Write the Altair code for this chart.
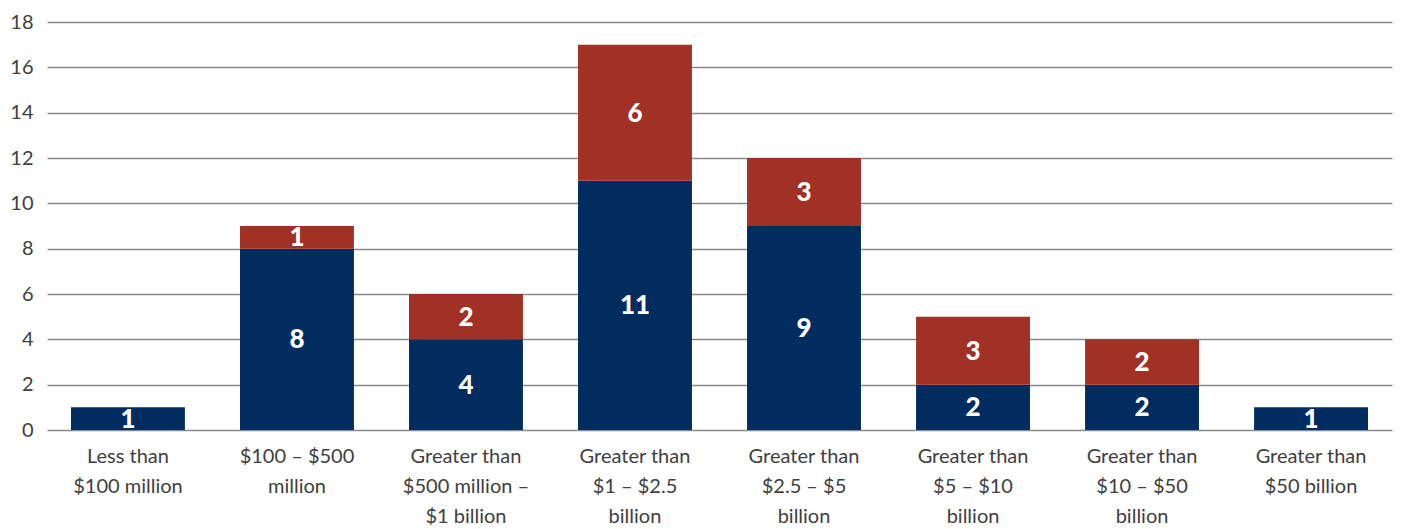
import altair as alt
import pandas as pd

categories = [
    "Less than|$100 million",
    "$100 – $500|million",
    "Greater than|$500 million –|$1 billion",
    "Greater than|$1 – $2.5|billion",
    "Greater than|$2.5 – $5|billion",
    "Greater than|$5 – $10|billion",
    "Greater than|$10 – $50|billion",
    "Greater than|$50 billion",
]
series_a = [1, 8, 4, 11, 9, 2, 2, 1]
series_b = [0, 1, 2, 6, 3, 3, 2, 0]
series_names = ["A", "B"]
colors = ["#002C5F", "#A03124"]

rows = []
for i, c in enumerate(categories):
    rows.append({"cat": c, "series": "A", "order": 0, "value": series_a[i],
                 "y0": 0, "y1": series_a[i]})
    rows.append({"cat": c, "series": "B", "order": 1, "value": series_b[i],
                 "y0": series_a[i], "y1": series_a[i] + series_b[i]})
df = pd.DataFrame(rows)
df["mid"] = (df["y0"] + df["y1"]) / 2

FONT = "Lato"

x = alt.X("cat:N", sort=categories, title=None,
          scale=alt.Scale(paddingInner=0.326, paddingOuter=0.142),
          axis=alt.Axis(labelExpr="split(datum.value, '|')", labelAngle=0,
                        labelFontSize=20, labelLineHeight=30, labelColor="#404040",
                        labelFont=FONT, labelPadding=16, labelOverlap=False,
                        ticks=False, domain=False, labelBaseline="top"))

bars = alt.Chart(df).mark_bar().encode(
    x=x,
    y=alt.Y("y0:Q", title=None,
            scale=alt.Scale(domain=[0, 18]),
            axis=alt.Axis(values=list(range(0, 19, 2)), labelFontSize=20,
                          labelColor="#404040", labelFont=FONT,
                          ticks=False, domain=False, gridColor="#8a8a8a", gridWidth=1.5,
                          labelPadding=14)),
    y2="y1:Q",
    color=alt.Color("series:N", scale=alt.Scale(domain=series_names, range=colors), legend=None),
)

text = alt.Chart(df[df["value"] > 0]).mark_text(
    color="white", fontWeight=900, fontSize=26, baseline="middle",
    font=FONT, dy=1
).encode(
    x=alt.X("cat:N", sort=categories),
    y=alt.Y("mid:Q"),
    text=alt.Text("value:Q"),
)

chart = alt.layer(bars, text).properties(
    width=1345, height=408,
    autosize=alt.AutoSizeParams(type="none"),
    padding={"left": 39, "top": 14, "right": 1, "bottom": 99},
).configure_view(stroke=None)

chart.save("out.html", embed_options={"renderer": "svg", "actions": False})
